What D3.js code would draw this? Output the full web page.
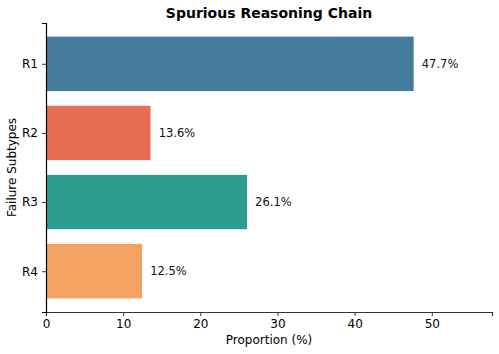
<!DOCTYPE html>
<html>
<head>
<meta charset="utf-8">
<script src="https://cdn.jsdelivr.net/npm/d3@7"></script>
<style>
  body { margin: 0; background: #fff; }
  text { font-family: "DejaVu Sans", sans-serif; }
</style>
</head>
<body>
<svg id="chart" width="499" height="354"></svg>
<script>
const categories = ["R1", "R2", "R3", "R4"];
const values = [47.7, 13.6, 26.1, 12.5];
const colors = ["#457b9d", "#e76f51", "#2a9d8f", "#f4a261"];
const xTicks = [0, 10, 20, 30, 40, 50];

const svg = d3.select("#chart");
const margin = { top: 23, left: 46, right: 7, bottom: 42 };
const width = 499, height = 354;

// x scale
const x = d3.scaleLinear().domain([0, 57.8]).range([margin.left, width - margin.right]);
// y: matplotlib-like, index positions with margins
const y = d3.scaleLinear().domain([-0.59, 3.59]).range([margin.top, height - margin.bottom]);
const barH = y(0.4) - y(-0.4);

svg.selectAll(".bar")
  .data(values)
  .join("rect")
  .attr("class", "bar")
  .attr("x", x(0))
  .attr("y", (d, i) => y(i) - barH / 2)
  .attr("width", d => x(d) - x(0))
  .attr("height", barH)
  .attr("fill", (d, i) => colors[i])
  .attr("stroke", "#fff")
  .attr("stroke-width", 0.8);

svg.selectAll(".lbl")
  .data(values)
  .join("text")
  .attr("class", "lbl")
  .attr("x", d => x(d + 1))
  .attr("y", (d, i) => y(i))
  .attr("dy", "0.35em")
  .attr("font-size", "11.5px")
  .attr("fill", "#111")
  .text(d => d.toFixed(1) + "%");

// axes
const xAxis = d3.axisBottom(x).tickValues(xTicks).tickSize(4).tickPadding(3);
svg.append("g")
  .attr("transform", `translate(0,${height - margin.bottom})`)
  .call(xAxis)
  .call(g => g.select(".domain").attr("stroke", "#333").attr("stroke-width", 1.2))
  .call(g => g.selectAll(".tick line").attr("stroke", "#333"))
  .call(g => g.selectAll("text").attr("font-size", "12px").attr("fill", "#000").attr("font-family", "DejaVu Sans"));

const yAxis = d3.axisLeft(y).tickValues(d3.range(categories.length)).tickFormat(i => categories[i]).tickSize(4).tickPadding(4);
svg.append("g")
  .attr("transform", `translate(${margin.left},0)`)
  .call(yAxis)
  .call(g => g.select(".domain").attr("stroke", "#000").attr("stroke-width", 1.2))
  .call(g => g.selectAll(".tick line").attr("stroke", "#333"))
  .call(g => g.selectAll("text").attr("font-size", "12px").attr("fill", "#000").attr("font-family", "DejaVu Sans"));

// titles
svg.append("text")
  .attr("x", (x(0) + x(57.8)) / 2)
  .attr("y", 18)
  .attr("text-anchor", "middle")
  .attr("font-size", "14px")
  .attr("font-weight", "bold")
  .text("Spurious Reasoning Chain");

svg.append("text")
  .attr("x", (x(0) + x(57.8)) / 2)
  .attr("y", 344)
  .attr("text-anchor", "middle")
  .attr("font-size", "12px")
  .text("Proportion (%)");

svg.append("text")
  .attr("transform", `translate(16,${(margin.top + height - margin.bottom) / 2}) rotate(-90)`)
  .attr("text-anchor", "middle")
  .attr("font-size", "12px")
  .text("Failure Subtypes");
</script>
</body>
</html>
